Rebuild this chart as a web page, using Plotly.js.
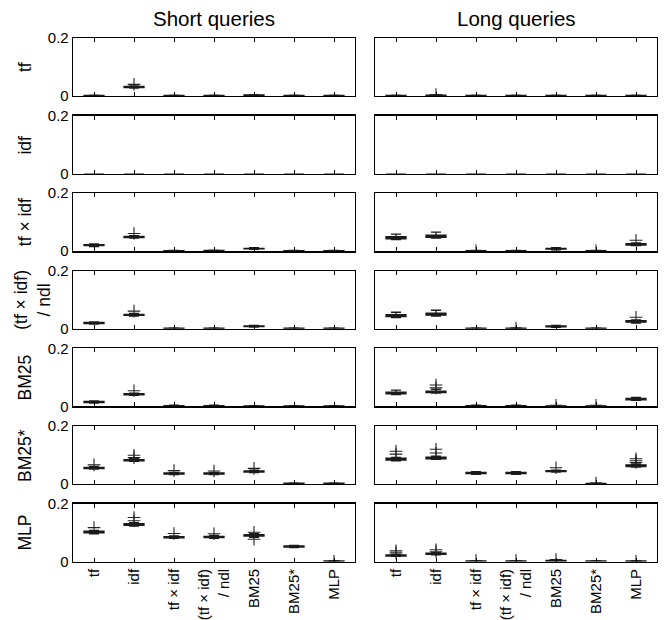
<!DOCTYPE html>
<html><head><meta charset="utf-8">
<script src="https://cdn.plot.ly/plotly-3.0.1.min.js"></script>
<style>body{margin:0;padding:0;background:#fff}#chart{width:670px;height:620px}</style>
</head><body><div id="chart"></div>
<script>
const categories = ['tf','idf','tf × idf','(tf × idf)<br>/ ndl','BM25','BM25*','MLP'];
const rowLabels = ['tf','idf','tf × idf','(tf × idf)<br>/ ndl','BM25','BM25*','MLP'];
const columnTitles = ['Short queries','Long queries'];

// Short queries: box statistics per row (feature) and category
const sMed = [
[0.001,0.031,0.001,0.001,0.003,0.001,0.001],
[0,0,0,0,0,0,0],
[0.021,0.049,0.001,0.002,0.009,0.001,0.001],
[0.020,0.048,0.001,0.001,0.009,0.001,0.001],
[0.015,0.042,0.002,0.002,0.001,0.001,0.001],
[0.055,0.082,0.036,0.036,0.043,0.002,0.002],
[0.102,0.128,0.084,0.085,0.090,0.052,0.001]];
const sQ1 = [
[0,0.029,0,0,0.002,0,0],
[0,0,0,0,0,0,0],
[0.019,0.047,0,0.001,0.008,0,0],
[0.018,0.046,0,0,0.008,0,0],
[0.013,0.040,0.001,0.001,0,0,0],
[0.053,0.080,0.034,0.034,0.041,0.001,0.001],
[0.099,0.125,0.082,0.083,0.088,0.050,0]];
const sQ3 = [
[0.002,0.033,0.002,0.002,0.004,0.002,0.002],
[0,0,0,0,0,0,0],
[0.023,0.051,0.002,0.003,0.010,0.002,0.002],
[0.022,0.050,0.002,0.002,0.010,0.002,0.002],
[0.017,0.044,0.003,0.003,0.002,0.002,0.002],
[0.057,0.084,0.038,0.038,0.045,0.003,0.003],
[0.105,0.131,0.086,0.087,0.093,0.054,0.002]];
const sLo = [
[0,0.027,0,0,0.001,0,0],
[0,0,0,0,0,0,0],
[0.016,0.045,0,0,0.006,0,0],
[0.016,0.044,0,0,0.006,0,0],
[0.011,0.038,0,0,0,0,0],
[0.051,0.078,0.032,0.032,0.039,0,0],
[0.096,0.122,0.080,0.080,0.084,0.048,0]];
const sHi = [
[0.003,0.035,0.003,0.003,0.005,0.003,0.003],
[0,0,0,0,0,0,0],
[0.025,0.054,0.003,0.004,0.012,0.003,0.003],
[0.024,0.053,0.003,0.003,0.012,0.003,0.003],
[0.019,0.046,0.004,0.004,0.003,0.003,0.003],
[0.060,0.087,0.040,0.040,0.048,0.004,0.004],
[0.108,0.134,0.089,0.090,0.096,0.056,0.003]];
const sOutRow = [0,2,3,4,5,5,5,5,5,5,6,6,6,6,6,6,6,6];
const sOutCat = [1,1,1,1,0,1,1,2,3,4,0,1,1,2,3,4,4,6];
const sOutVal = [0.040,0.061,0.061,0.054,0.066,0.099,0.091,0.046,0.045,0.054,0.117,0.152,0.141,0.097,0.096,0.101,0.077,0.001];

// Long queries
const lMed = [
[0.001,0.002,0.001,0.001,0.001,0.001,0.001],
[0,0,0,0,0,0,0],
[0.046,0.051,0.001,0.001,0.008,0.001,0.023],
[0.045,0.050,0.001,0.001,0.008,0.001,0.025],
[0.045,0.050,0.002,0.002,0.001,0.001,0.025],
[0.085,0.089,0.038,0.038,0.044,0.001,0.063],
[0.021,0.027,0.001,0.001,0.002,0.001,0.001]];
const lQ1 = [
[0,0.001,0,0,0,0,0],
[0,0,0,0,0,0,0],
[0.043,0.048,0,0,0.007,0,0.021],
[0.042,0.047,0,0,0.007,0,0.023],
[0.043,0.048,0.001,0.001,0,0,0.023],
[0.082,0.087,0.036,0.036,0.043,0,0.060],
[0.019,0.025,0,0,0.001,0,0]];
const lQ3 = [
[0.002,0.003,0.002,0.002,0.002,0.002,0.002],
[0,0,0,0,0,0,0],
[0.050,0.055,0.002,0.002,0.010,0.002,0.026],
[0.049,0.054,0.002,0.002,0.010,0.002,0.028],
[0.049,0.053,0.003,0.003,0.002,0.002,0.028],
[0.089,0.093,0.040,0.040,0.046,0.002,0.066],
[0.023,0.029,0.002,0.002,0.004,0.002,0.002]];
const lLo = [
[0,0,0,0,0,0,0],
[0,0,0,0,0,0,0],
[0.040,0.045,0,0,0.005,0,0.019],
[0.039,0.044,0,0,0.005,0,0.020],
[0.041,0.046,0,0,0,0,0.021],
[0.080,0.085,0.033,0.033,0.041,0,0.058],
[0.018,0.023,0,0,0,0,0]];
const lHi = [
[0.003,0.004,0.003,0.003,0.003,0.003,0.003],
[0,0,0,0,0,0,0],
[0.059,0.066,0.003,0.003,0.012,0.003,0.029],
[0.057,0.064,0.003,0.003,0.012,0.003,0.031],
[0.056,0.059,0.004,0.004,0.003,0.003,0.031],
[0.092,0.096,0.043,0.043,0.048,0.003,0.069],
[0.025,0.031,0.003,0.003,0.005,0.003,0.003]];
const lOutRow = [0,2,2,2,3,3,4,4,4,4,5,5,5,5,5,5,5,5,5,6,6,6,6,6,6,6,6];
const lOutCat = [1,2,5,6,3,6,1,1,4,5,0,0,1,1,4,5,6,6,6,0,0,1,1,2,3,4,6];
const lOutVal = [0.005,0.001,0.001,0.038,0.003,0.040,0.074,0.064,0.004,0.004,0.113,0.103,0.120,0.107,0.056,0.003,0.087,0.080,0.074,0.037,0.030,0.041,0.034,0.004,0.004,0.007,0.001];

const W = 670, H = 620;
const colX = [[73,355],[375,657]];
const rowTop0 = 38, rowPitch = 77.6, rowH = 58;
const FONT = 'Liberation Sans, Arial, Helvetica, sans-serif';

const cols = [
  {med:sMed,q1:sQ1,q3:sQ3,lo:sLo,hi:sHi,oR:sOutRow,oC:sOutCat,oV:sOutVal},
  {med:lMed,q1:lQ1,q3:lQ3,lo:lLo,hi:lHi,oR:lOutRow,oC:lOutCat,oV:lOutVal}
];

const data = [];
const layout = {
  width: W, height: H,
  margin: {l:0,r:0,t:0,b:0},
  paper_bgcolor:'#fff', plot_bgcolor:'#fff',
  showlegend:false,
  font:{family:FONT,color:'#000',size:14},
  annotations: []
};

for (let r = 0; r < 7; r++) {
  for (let c = 0; c < 2; c++) {
    const k = r*2 + c + 1;
    const xa = 'x' + (k===1?'':k), ya = 'y' + (k===1?'':k);
    const d = cols[c];
    data.push({
      type:'box', xaxis:xa, yaxis:ya,
      x: categories,
      q1: d.q1[r], median: d.med[r], q3: d.q3[r],
      lowerfence: d.lo[r], upperfence: d.hi[r],
      boxpoints:false, width:0.5, whiskerwidth:0.5,
      line:{color:'#1a1a1a',width:1.3},
      fillcolor:'rgba(100,100,100,0.75)',
      hoverinfo:'skip'
    });
    const ox = [], oy = [];
    for (let i = 0; i < d.oR.length; i++) {
      if (d.oR[i] === r) { ox.push(categories[d.oC[i]]); oy.push(d.oV[i]); }
    }
    data.push({
      type:'scatter', mode:'markers', xaxis:xa, yaxis:ya,
      x: ox, y: oy,
      marker:{symbol:'cross-thin-open',size:9,line:{width:1.1,color:'#222'},color:'#222'},
      hoverinfo:'skip'
    });
    const top = rowTop0 + r*rowPitch, bot = top + rowH;
    const xkey = 'xaxis' + (k===1?'':k), ykey = 'yaxis' + (k===1?'':k);
    layout[xkey] = {
      domain:[colX[c][0]/W, colX[c][1]/W],
      anchor: ya,
      type:'category', categoryorder:'array', categoryarray:categories,
      range:[-0.525, 6.525],
      showgrid:false, zeroline:false,
      showline:true, linecolor:'#000', linewidth:1.3, mirror:'ticks',
      ticks:'inside', ticklen:4, tickwidth:1, tickcolor:'#000',
      showticklabels: r === 6, tickangle:-90,
      tickfont:{family:FONT,size:15,color:'#000'}
    };
    layout[ykey] = {
      domain:[1 - bot/H, 1 - top/H],
      anchor: xa,
      range:[0,0.2],
      tickvals:[0,0.2], ticktext:['0','0.2'],
      showgrid:false, zeroline:false,
      showline:true, linecolor:'#000', linewidth:1.3, mirror:true,
      ticks:'', showticklabels: c === 0,
      tickfont:{family:FONT,size:15,color:'#000'}
    };
    if (c === 0) {
      layout.annotations.push({
        xref:'paper', yref:'paper',
        x: (r===3 ? 33 : 25)/W, y: 1 - (top + rowH/2)/H,
        text: rowLabels[r], textangle:-90, showarrow:false,
        xanchor:'center', yanchor:'middle',
        font:{family:FONT,size:17.5,color:'#000'}
      });
    }
  }
}
for (let c = 0; c < 2; c++) {
  layout.annotations.push({
    xref:'paper', yref:'paper',
    x: (colX[c][0]+colX[c][1])/2/W, y: 1 - 18/H,
    text: columnTitles[c], showarrow:false,
    xanchor:'center', yanchor:'middle',
    font:{family:FONT,size:20.5,color:'#000'}
  });
}
Plotly.newPlot('chart', data, layout, {displayModeBar:false, staticPlot:true});
</script>
</body></html>
